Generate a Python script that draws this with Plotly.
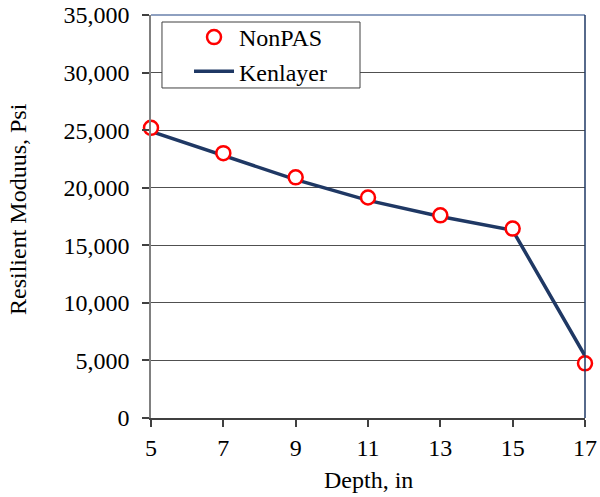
import plotly.graph_objects as go

depth = [5, 7, 9, 11, 13, 15, 17]
nonpas = [25200, 23000, 20900, 19150, 17600, 16450, 4750]
kenlayer = [24900, 22800, 20700, 18900, 17500, 16300, 5400]
x_ticks = [5, 7, 9, 11, 13, 15, 17]
y_ticks = [0, 5000, 10000, 15000, 20000, 25000, 30000, 35000]
y_labels = ["0", "5,000", "10,000", "15,000", "20,000", "25,000", "30,000", "35,000"]

font_family = "Liberation Serif, Times New Roman, serif"
FS = 24

fig = go.Figure()
fig.add_trace(go.Scatter(
    x=depth, y=kenlayer, mode="lines", name="Kenlayer",
    line=dict(color="#1f3864", width=3.5),
))
fig.add_trace(go.Scatter(
    x=depth, y=nonpas, mode="markers", name="NonPAS",
    marker=dict(symbol="circle", size=14, color="white",
                line=dict(color="#ff0000", width=2.5)),
    cliponaxis=False,
))

fig.update_layout(
    width=600, height=497,
    margin=dict(l=151, r=15, t=15, b=79, autoexpand=False),
    paper_bgcolor="white", plot_bgcolor="white",
    font=dict(family=font_family, size=FS, color="#000000"),
    showlegend=True,
    legend=dict(
        x=0.0876, y=1.0, xanchor="left", yanchor="top",
        bgcolor="rgba(0,0,0,0)", borderwidth=0,
        traceorder="reversed",
        font=dict(family=font_family, size=FS),
        itemwidth=40,
        tracegroupgap=0,
    ),
    xaxis=dict(
        range=[5, 17], tickvals=x_ticks, ticktext=[str(v) for v in x_ticks],
        showgrid=False, zeroline=False, automargin=False,
        showline=True, linecolor="#404040", linewidth=1.5,
        ticks="outside", ticklen=7, tickcolor="#404040", tickwidth=1.5,
        tickfont=dict(size=FS), ticklabeloverflow="allow",
    ),
    yaxis=dict(
        range=[0, 35000], tickvals=y_ticks, ticktext=y_labels,
        showgrid=True, gridcolor="#505050", gridwidth=1,
        zeroline=False, automargin=False,
        showline=True, linecolor="#808080", linewidth=1.5,
        ticks="outside", ticklen=7, tickcolor="#404040", tickwidth=1.5,
        tickfont=dict(size=FS), ticklabeloverflow="allow",
        ticklabelstandoff=8,
    ),
    annotations=[
        dict(text="Depth, in", xref="paper", yref="paper", x=0.5, y=-0.154,
             xanchor="center", yanchor="middle", showarrow=False,
             font=dict(size=FS)),
        dict(text="Resilient Moduus, Psi", xref="paper", yref="paper", x=-0.3065, y=0.5186,
             xanchor="center", yanchor="middle", showarrow=False, textangle=-90,
             font=dict(size=FS)),
    ],
)

# legend frame
fig.add_shape(type="rect", xref="paper", yref="paper", x0=0.0253, x1=0.4816,
              y0=0.8189, y1=0.9826, line=dict(color="#404040", width=1),
              fillcolor="white", layer="above")
# top and right frame lines
fig.add_shape(type="line", xref="paper", yref="paper", x0=0, x1=1, y0=1, y1=1,
              line=dict(color="#8ea0c0", width=2))
fig.add_shape(type="line", xref="paper", yref="paper", x0=1, x1=1, y0=0, y1=1,
              line=dict(color="#1f3864", width=1.5))

fig.write_html("out.html", config={"displayModeBar": False},
               post_script="document.body.style.margin='0';")
